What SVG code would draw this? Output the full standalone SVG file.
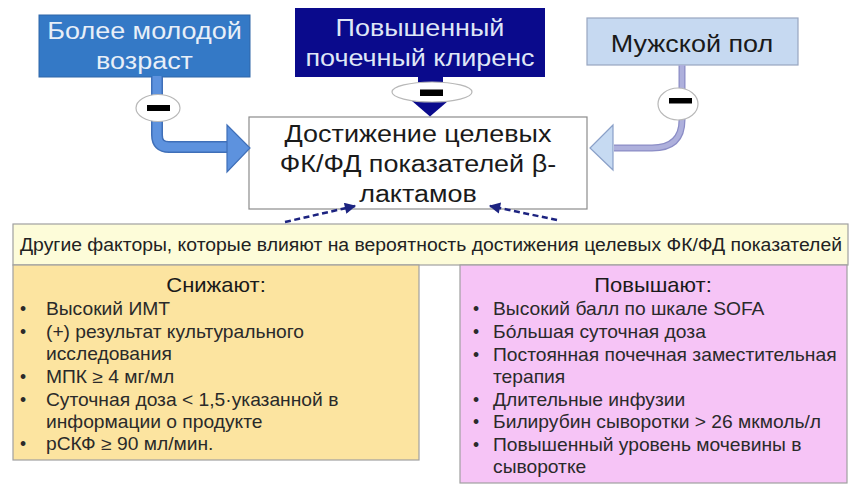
<svg xmlns="http://www.w3.org/2000/svg" width="860" height="494" viewBox="0 0 860 494">
<defs>
<style>
.t{font-family:"Liberation Sans",Arial,sans-serif}
.big{font-size:24.5px}
.lst{font-size:17.5px;fill:#2a2a2a}
.hd{font-size:20px;fill:#1a1a1a}
.dash{fill:none;stroke:#1c2380;stroke-width:2.5;stroke-dasharray:6 3.5}
.minus{fill:#000}
.oval{fill:#fff;stroke:#b8b8b8;stroke-width:1.2}
</style>
<marker id="ah" viewBox="0 0 10 10" refX="9" refY="5" markerWidth="5.5" markerHeight="4.5" orient="auto">
<path d="M0,0 L10,5 L0,10 z" fill="#1c2380"/>
</marker>
</defs>
<rect width="860" height="494" fill="#fff"/>

<g id="node-young">
<rect x="39" y="15" width="211" height="62" fill="#3479c6" stroke="#2f66a8" stroke-width="1"/>
<text class="t big" transform="scale(1.1,1)" x="131.4" y="39" text-anchor="middle" fill="#e8eff8">Более молодой</text>
<text class="t big" transform="scale(1.1,1)" x="131.4" y="69" text-anchor="middle" fill="#e8eff8">возраст</text>
</g>

<g id="node-clearance">
<rect x="295" y="8" width="250" height="69" fill="#0a0a8c"/>
<text class="t big" transform="scale(1.1,1)" x="381.8" y="36" text-anchor="middle" fill="#dfe6f6">Повышенный</text>
<text class="t big" transform="scale(1.1,1)" x="381.8" y="66" text-anchor="middle" fill="#dfe6f6">почечный клиренс</text>
</g>

<g id="node-male">
<rect x="587" y="18" width="211" height="47" fill="#c6d9f1" stroke="#98a6c0" stroke-width="1.2"/>
<text class="t big" transform="scale(1.1,1)" x="629.1" y="52" text-anchor="middle" fill="#1a1a1a">Мужской пол</text>
</g>

<g id="node-target">
<rect x="249" y="117" width="338" height="92" fill="#fff" stroke="#8c8c8c" stroke-width="1.2"/>
<text class="t big" transform="scale(1.1,1)" x="380" y="142" text-anchor="middle" fill="#1a1a1a">Достижение целевых</text>
<text class="t big" transform="scale(1.1,1)" x="380" y="172" text-anchor="middle" fill="#1a1a1a">ФК/ФД показателей β-</text>
<text class="t big" transform="scale(1.1,1)" x="380" y="202" text-anchor="middle" fill="#1a1a1a">лактамов</text>
</g>

<g id="node-other">
<rect x="13" y="224" width="835" height="41" fill="#fdfcd9" stroke="#a0a0a0" stroke-width="1.2"/>
<text class="t" x="20" y="251" font-size="17.5" fill="#222" textLength="822" lengthAdjust="spacingAndGlyphs">Другие факторы, которые влияют на вероятность достижения целевых ФК/ФД показателей</text>
</g>

<g id="node-decrease">
<rect x="13" y="265" width="406" height="195" fill="#fce4a0" stroke="#a0a0a0" stroke-width="1.2"/>
<text class="t hd" transform="scale(1.1,1)" x="196.4" y="292" text-anchor="middle">Снижают:</text>
<g class="t lst">
<text x="20" y="315">•</text>
<text x="20" y="338">•</text>
<text x="20" y="383">•</text>
<text x="20" y="406">•</text>
<text x="20" y="450">•</text>
</g>
<g class="t lst" transform="scale(1.1,1)">
<text x="41.8" y="315">Высокий ИМТ</text>
<text x="41.8" y="338">(+) результат культурального</text>
<text x="41.8" y="360">исследования</text>
<text x="41.8" y="383">МПК ≥ 4 мг/мл</text>
<text x="41.8" y="406">Суточная доза &lt; 1,5·указанной в</text>
<text x="41.8" y="428">информации о продукте</text>
<text x="41.8" y="450">рСКФ ≥ 90 мл/мин.</text>
</g>
</g>

<g id="node-increase">
<rect x="460" y="265" width="387" height="218" fill="#f6c4f6" stroke="#a0a0a0" stroke-width="1.2"/>
<text class="t hd" transform="scale(1.1,1)" x="593.6" y="292" text-anchor="middle">Повышают:</text>
<g class="t lst">
<text x="473" y="315">•</text>
<text x="473" y="338">•</text>
<text x="473" y="361">•</text>
<text x="473" y="406">•</text>
<text x="473" y="428">•</text>
<text x="473" y="451">•</text>
</g>
<g class="t lst" transform="scale(1.1,1)">
<text x="448.2" y="315">Высокий балл по шкале SOFA</text>
<text x="448.2" y="338">Бóльшая суточная доза</text>
<text x="448.2" y="361">Постоянная почечная заместительная</text>
<text x="448.2" y="383">терапия</text>
<text x="448.2" y="406">Длительные инфузии</text>
<text x="448.2" y="428">Билирубин сыворотки &gt; 26 мкмоль/л</text>
<text x="448.2" y="451">Повышенный уровень мочевины в</text>
<text x="448.2" y="473">сыворотке</text>
</g>
</g>

<g id="connectors">
<!-- left arrow -->
<path d="M157,77 V135 Q157,147 169,147 H229" fill="none" stroke="#3f6fb8" stroke-width="12"/>
<path d="M157,76 V135 Q157,147 169,147 H229" fill="none" stroke="#5d92de" stroke-width="9"/>
<path d="M227,125 L250,148 L227,172 z" fill="#5d92de" stroke="#3f6fb8" stroke-width="1.2"/>
<ellipse class="oval" cx="158" cy="108" rx="22" ry="13.5"/>
<rect class="minus" x="147" y="105" width="23" height="6"/>
<!-- middle arrow -->
<rect x="418" y="76" width="25" height="26" fill="#0a0a8c"/>
<path d="M412,101 L448,101 L430,116.5 z" fill="#0a0a8c"/>
<ellipse class="oval" cx="432" cy="92" rx="40" ry="10"/>
<rect class="minus" x="420" y="89.5" width="23" height="6.5"/>
<!-- right arrow -->
<path d="M682,65.5 V120 Q682,148 652,148 H614" fill="none" stroke="#8b8dc6" stroke-width="7"/>
<path d="M682,65 V120 Q682,148 652,148 H614" fill="none" stroke="#aeb0dc" stroke-width="4.5"/>
<path d="M613,125 L590,148 L613,170 z" fill="#c6daf2" stroke="#8aa0c8" stroke-width="1.2"/>
<ellipse class="oval" cx="678" cy="104" rx="20" ry="16"/>
<rect class="minus" x="669" y="98" width="23" height="5.5"/>
<!-- dashed arrows -->
<path class="dash" d="M285,222 L355,206" marker-end="url(#ah)"/>
<path class="dash" d="M557,220 L490,206" marker-end="url(#ah)"/>
</g>
</svg>
